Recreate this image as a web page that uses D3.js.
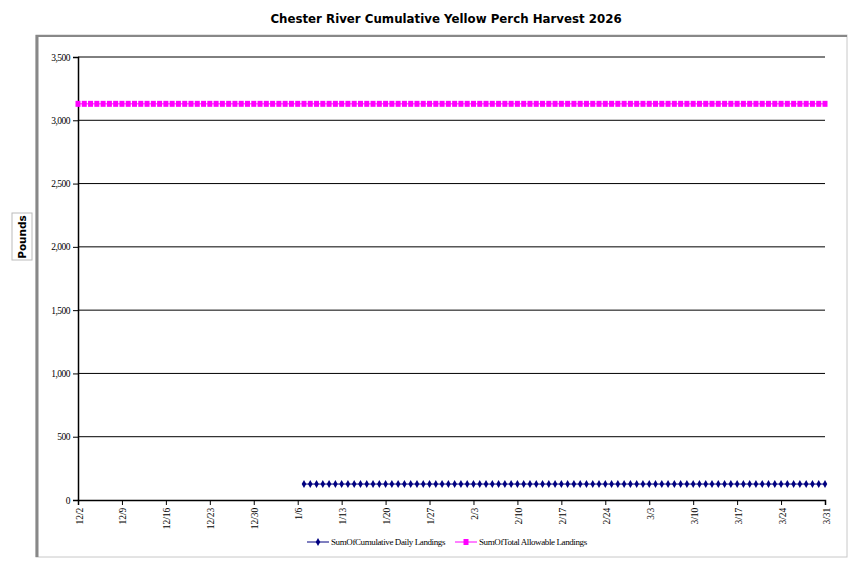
<!DOCTYPE html>
<html><head><meta charset="utf-8">
<script src="https://cdn.jsdelivr.net/npm/d3@7"></script>
<style>body{margin:0;background:#fff}</style></head>
<body><svg id="c" width="852" height="563"></svg>
<script>
const startDate = "2025-12-02", endDate = "2026-03-31";
const landingsStart = "2026-01-07";
const landingsValue = 126;      // cumulative daily landings (lbs)
const allowableValue = 3130;    // total allowable landings (lbs)
const yTicks = [0,500,1000,1500,2000,2500,3000,3500];
const seriesNames = ["SumOfCumulative Daily Landings","SumOfTotal Allowable Landings"];

const parse = d3.timeParse("%Y-%m-%d");
const days = d3.timeDay.range(parse(startDate), d3.timeDay.offset(parse(endDate),1));
const allowable = days.map(d => ({d, v: allowableValue}));
const landings = days.filter(d => d >= parse(landingsStart)).map(d => ({d, v: landingsValue}));

const svg = d3.select("#c");
svg.append("rect").attr("x",36).attr("y",35).attr("width",811).attr("height",522).attr("fill","#fff").attr("stroke","#c8c8c8");
svg.append("line").attr("x1",37).attr("x2",37).attr("y1",35).attr("y2",557).attr("stroke","#888").attr("stroke-width",3);
svg.append("line").attr("x1",36).attr("x2",847).attr("y1",36).attr("y2",36).attr("stroke","#888").attr("stroke-width",2);

svg.append("text").attr("x",446).attr("y",23).attr("text-anchor","middle")
  .attr("font-family","DejaVu Sans, Verdana").attr("font-weight","bold").attr("font-size",11.8).text("Chester River Cumulative Yellow Perch Harvest 2026");

const x = d3.scaleTime().domain([parse(startDate), parse(endDate)]).range([78,825]);
const y = d3.scaleLinear().domain([0,3500]).range([500,57]);

const g = svg.append("g");
g.selectAll("line.grid").data(yTicks.slice(1)).join("line").attr("x1",78).attr("x2",825)
  .attr("y1",d=>y(d)).attr("y2",d=>y(d)).attr("stroke","#000");

const ya = g.append("g").attr("transform","translate(78,0)")
  .call(d3.axisLeft(y).tickValues(yTicks).tickFormat(d3.format(",")).tickSize(5));
ya.selectAll("text").attr("font-family","Liberation Serif, Times New Roman").attr("font-size",9.5).attr("fill","#000").attr("letter-spacing",-0.5);
const xTicks = d3.timeDay.range(parse(startDate), d3.timeDay.offset(parse(endDate),1), 7);
const xa = g.append("g").attr("transform","translate(0,500)")
  .call(d3.axisBottom(x).tickValues(xTicks).tickFormat(d3.timeFormat("%-m/%-d")).tickSize(5));
xa.selectAll("text").attr("font-family","Liberation Serif, Times New Roman").attr("font-size",9.5).attr("fill","#000")
  .attr("transform","rotate(-90)").attr("text-anchor","end").attr("dx","-0.6em").attr("dy","-0.25em").attr("y",0).attr("x",-2)
  .attr("dominant-baseline","hanging");
g.selectAll(".domain").attr("stroke","#000").attr("stroke-width",1.5);

const line = d3.line().x(p=>x(p.d)).y(p=>y(p.v));
g.append("path").datum(allowable).attr("d",line).attr("stroke","#ff00ff").attr("fill","none");
g.selectAll("rect.a").data(allowable).join("rect").attr("x",p=>x(p.d)-2.5).attr("y",p=>y(p.v)-3).attr("width",5).attr("height",6).attr("fill","#ff00ff");
g.append("path").datum(landings).attr("d",line).attr("stroke","#000080").attr("fill","none");
const diamond = d3.symbol().type(d3.symbolDiamond).size(18);
g.selectAll("path.l").data(landings).join("path").attr("d",diamond).attr("transform",p=>`translate(${x(p.d)},${y(p.v)})`).attr("fill","#000080");

// y title
svg.append("rect").attr("x",12).attr("y",213).attr("width",20).attr("height",47).attr("fill","#fff").attr("stroke","#bbb");
svg.append("text").attr("transform","translate(26,237) rotate(-90)").attr("text-anchor","middle")
  .attr("font-family","DejaVu Sans, Verdana").attr("font-weight","bold").attr("font-size",10.5).text("Pounds");

// legend
const lg = svg.append("g").attr("font-family","Liberation Serif, Times New Roman").attr("font-size",9);
const lx = [307, 455];
lg.selectAll("line").data(lx).join("line").attr("x1",d=>d).attr("x2",d=>d+22).attr("y1",542).attr("y2",542)
  .attr("stroke",(d,i)=>i?"#ff00ff":"#000080");
lg.append("path").attr("d",diamond).attr("transform",`translate(${lx[0]+11},542)`).attr("fill","#000080");
lg.append("rect").attr("x",lx[1]+8.5).attr("y",539).attr("width",5).attr("height",6).attr("fill","#ff00ff");
lg.selectAll("text").data(seriesNames).join("text").attr("x",(d,i)=>lx[i]+24).attr("y",545).attr("letter-spacing",-0.4).text(d=>d);
</script></body></html>
